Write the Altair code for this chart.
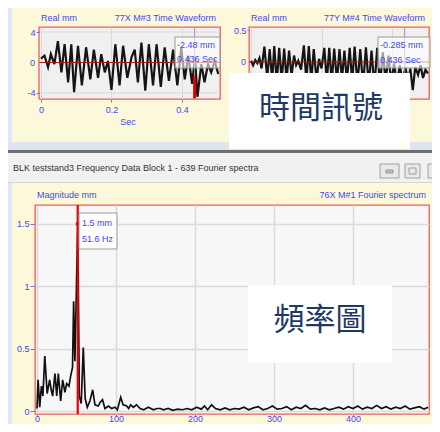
import altair as alt
import pandas as pd

# ---------------- data ----------------
# 77X M#3 time waveform (Sec, mm)
tx_time = [0.000, 0.010, 0.020, 0.028, 0.038, 0.048, 0.058, 0.067, 0.077, 0.086,
           0.094, 0.105, 0.116, 0.128, 0.140, 0.150, 0.162, 0.171, 0.181, 0.190,
           0.200, 0.211, 0.223, 0.233, 0.245, 0.257, 0.266, 0.275, 0.285, 0.296,
           0.306, 0.318, 0.328, 0.340, 0.351, 0.363, 0.375, 0.387, 0.398, 0.408,
           0.418, 0.429, 0.437, 0.444, 0.455, 0.464, 0.474, 0.483, 0.493, 0.503]
tx_val = [0.5, 0.9, -0.6, 1.1, -0.2, 2.8, -1.3, 2.4, -2.6, 2.4,
          -3.9, 2.2, -3.0, 2.0, -2.2, 1.7, -2.0, 1.1, -1.3, 0.2,
          -3.6, 2.4, -3.0, 2.2, -2.0, 0.7, 1.7, -2.6, 2.6, -3.7,
          2.4, -3.0, 2.4, -3.2, 2.0, -2.4, 1.7, -3.0, 2.0, -2.2,
          0.9, -2.8, 0.7, -4.5, -0.2, -2.6, -0.2, -1.3, 0.2, -1.5]

# 77Y M#4 time waveform (Sec, mm)
ty_time = [0.000, 0.006, 0.012, 0.018, 0.024, 0.030, 0.038, 0.046, 0.053, 0.060,
           0.066, 0.073, 0.080, 0.087, 0.094, 0.101, 0.108, 0.115, 0.122, 0.128,
           0.134, 0.142, 0.150, 0.157, 0.164, 0.171, 0.178, 0.186, 0.193, 0.200,
           0.208, 0.215, 0.222, 0.229, 0.236, 0.244, 0.251, 0.258, 0.265, 0.272,
           0.280, 0.287, 0.294, 0.302, 0.310, 0.318, 0.326, 0.334, 0.342, 0.350,
           0.358, 0.366, 0.374, 0.382, 0.390, 0.398, 0.406, 0.414, 0.422, 0.430,
           0.438, 0.446, 0.452, 0.459, 0.466, 0.474, 0.481, 0.488, 0.495, 0.502]
ty_val = [0.02, -0.05, 0.03, -0.02, 0.06, -0.10, 0.24, -0.25, 0.20, -0.30,
          0.25, -0.32, 0.22, -0.30, 0.21, -0.28, 0.18, -0.22, 0.10, -0.05,
          0.02, -0.12, 0.26, -0.30, 0.25, -0.30, 0.20, -0.28, 0.05, -0.10,
          0.22, -0.30, 0.22, -0.32, 0.21, -0.30, 0.20, -0.28, 0.18, -0.30,
          0.22, -0.32, 0.24, -0.35, 0.20, -0.38, 0.23, -0.36, 0.18, -0.40,
          0.22, -0.35, 0.15, -0.30, 0.10, -0.32, -0.02, -0.35, -0.05, -0.30,
          -0.08, -0.30, -0.10, -0.44, -0.08, -0.20, -0.05, -0.25, -0.12, -0.18]

# 76X M#1 Fourier spectrum (Hz, mm)
spec_freq = [0, 1.4, 3.5, 5.6, 7.5, 9.9, 12.9, 16, 18, 19.8,
             22.8, 25, 27, 30, 32.5, 35.4, 37.5, 40.5, 42.6, 45,
             46.4, 48, 51.6, 53.6, 56, 58.6, 61, 63.7, 67, 70.5,
             73.4, 77.6, 80, 83, 86, 90.3, 94.5, 98.7, 101.7, 106,
             109, 113.6, 116, 118.6, 122, 126, 130.6, 135, 141, 147.5,
             152, 156, 160, 166, 172, 178, 184, 190, 196, 202,
             208, 212, 216, 221, 226, 232, 238, 244, 250, 256,
             262, 268, 274, 280, 286, 292, 298, 304, 310, 316,
             322, 328, 334, 340, 346, 352, 358, 364, 370, 376,
             382, 388, 394, 400, 406, 412, 418, 424, 430, 436,
             442, 448, 454, 460, 466, 472, 478, 484, 490, 495]
spec_mag = [0.02, 0.25, 0.03, 0.20, 0.12, 0.44, 0.14, 0.25, 0.17, 0.12,
            0.30, 0.12, 0.30, 0.08, 0.25, 0.15, 0.22, 0.20, 0.28, 0.35,
            0.88, 0.40, 1.50, 0.12, 0.06, 0.51, 0.10, 0.03, 0.08, 0.17,
            0.05, 0.04, 0.07, 0.09, 0.02, 0.04, 0.02, 0.03, 0.01, 0.11,
            0.05, 0.04, 0.02, 0.05, 0.03, 0.05, 0.02, 0.01, 0.03, 0.01,
            0.02, 0.02, 0.01, 0.02, 0.005, 0.015, 0.01, 0.02, 0.01, 0.03,
            0.015, 0.04, 0.01, 0.05, 0.02, 0.01, 0.025, 0.01, 0.02, 0.015,
            0.03, 0.01, 0.025, 0.035, 0.01, 0.02, 0.04, 0.015, 0.02, 0.035,
            0.01, 0.03, 0.02, 0.045, 0.015, 0.02, 0.01, 0.025, 0.01, 0.02,
            0.03, 0.015, 0.035, 0.02, 0.04, 0.015, 0.03, 0.02, 0.045, 0.02,
            0.035, 0.015, 0.03, 0.02, 0.04, 0.015, 0.025, 0.035, 0.015, 0.03]

time_ticks = [0, 0.2, 0.4]
tl_y_ticks = [-4, 0, 4]
tr_y_ticks = [-0.5, 0, 0.5]
spec_x_ticks = [0, 100, 200, 300, 400]
spec_y_ticks = [0, 0.5, 1, 1.5]

cursor_time = 0.436
cursor_freq = 51.6
cursor_mag = 1.5

# ---------------- styling ----------------
YELLOW = "#fcf8da"
RED = "#f25a5a"
BLUE = "#4646ee"
FONT = "Liberation Sans Narrow, Liberation Sans, Arial"
CJK = "Noto Sans CJK TC"
LBL = "toString(datum.value)"

one = pd.DataFrame({"a": [0]})


def box(x1, y1, x2, y2, fill, stroke=None, sw=1.0, opacity=1.0):
    kw = dict(fill=fill, fillOpacity=opacity)
    if stroke:
        kw.update(stroke=stroke, strokeWidth=sw)
    return alt.Chart(one).mark_rect(**kw).encode(
        x=alt.value(x1), x2=alt.value(x2), y=alt.value(y1), y2=alt.value(y2))


def label(x, y, s, size=9, color=BLUE, align="left", font=FONT):
    return alt.Chart(one).mark_text(text=s, fontSize=size, color=color, align=align,
                                    baseline="middle", font=font).encode(
        x=alt.value(x), y=alt.value(y))


def zero_label(x):
    # the "0" tick label of the time-waveform y axes
    return alt.Chart(one).mark_text(text="0", fontSize=9, color=BLUE, align="right",
                                    baseline="middle", font=FONT).encode(
        x=alt.value(x), y=alt.datum(0))


def hrule(v, x1, x2, color, sw=1.0):
    return alt.Chart(one).mark_rule(color=color, strokeWidth=sw).encode(
        y=alt.datum(v), x=alt.value(x1), x2=alt.value(x2))


# ---------------- top-left: 77X M#3 ----------------
dfx = pd.DataFrame({"t": tx_time, "v": tx_val})
tl_xs = alt.Scale(domain=[-0.017, 0.508], nice=False, zero=False)
tl_ys = alt.Scale(domain=[-4.79, 4.66], nice=False, zero=False)

tl_line = alt.Chart(dfx).mark_line(color="#151515", strokeWidth=2.2).encode(
    x=alt.X("t:Q", scale=tl_xs, axis=alt.Axis(values=time_ticks, title="Sec", grid=True,
                                               domain=False, tickSize=3, labelPadding=3,
                                               labelExpr=LBL, titlePadding=3,
                                               labelOverlap=False)),
    y=alt.Y("v:Q", scale=tl_ys, axis=alt.Axis(values=tl_y_ticks, title=None, grid=False,
                                               domain=False, offset=-4, zindex=1,
                                               tickSize=3, labelPadding=1, labelExpr=LBL,
                                               labelOverlap=False)),
)
tl_mask = box(-1.5, -1.5, 4, 73.5, YELLOW)
tl_left = alt.Chart(one).mark_rule(color=RED, strokeWidth=1.3).encode(
    x=alt.value(4), y=alt.value(0), y2=alt.value(72))
tl_cur = alt.Chart(one).mark_rule(color="#9a9a9a", strokeWidth=1).encode(
    x=alt.datum(cursor_time), y=alt.value(0), y2=alt.value(72))
tl_cur_red = alt.Chart(one).mark_rule(color="#e00000", strokeWidth=3).encode(
    x=alt.datum(cursor_time), y=alt.datum(-1.8), y2=alt.datum(-4.7))

tl = alt.layer(
    hrule(4, 4, 185, "#dadada"), hrule(-4, 4, 185, "#dadada"),
    tl_line, hrule(0, 4, 185, "#9a1c1c", 1.2),
    tl_mask, tl_left, zero_label(0), tl_cur, tl_cur_red,
    box(140, 10, 185, 41, "white", "#9a9a9a", 1, 0.6),
    label(142, 18, "-2.48 mm"), label(142, 32, "0.436 Sec"),
    label(6, -9, "Real mm"), label(181, -9, "77X M#3 Time Waveform", align="right"),
).properties(width=185, height=72)

# ---------------- top-right: 77Y M#4 ----------------
dfy = pd.DataFrame({"t": ty_time, "v": ty_val})
tr_xs = alt.Scale(domain=[-0.0057, 0.505], nice=False, zero=False)
tr_ys = alt.Scale(domain=[-0.578, 0.547], nice=False, zero=False)

# x labels/title of this panel are hidden under the caption box in the reference
tr_line = alt.Chart(dfy).mark_line(color="#151515", strokeWidth=2.2).encode(
    x=alt.X("t:Q", scale=tr_xs, axis=alt.Axis(values=time_ticks, title=None, grid=True,
                                               domain=False, tickSize=3, labels=False)),
    y=alt.Y("v:Q", scale=tr_ys, axis=alt.Axis(values=tr_y_ticks, title=None, grid=False,
                                               domain=False, tickSize=2, labelPadding=1,
                                               labelExpr=LBL, labelOverlap=False)),
)
tr_cur = alt.Chart(one).mark_rule(color="#9a9a9a", strokeWidth=1).encode(
    x=alt.datum(cursor_time), y=alt.value(0), y2=alt.value(72))

tr = alt.layer(
    tr_line, hrule(0, 0, 180, "#9a1c1c", 1.2), zero_label(-3), tr_cur,
    box(129, 10, 181, 41, "white", "#9a9a9a", 1, 0.6),
    label(131, 18, "-0.285 mm"), label(131, 33, "0.436 Sec"),
    label(2, -9, "Real mm"), label(176, -9, "77Y M#4 Time Waveform", align="right"),
).properties(width=180, height=72)

# ---------------- bottom: 76X M#1 Fourier spectrum ----------------
dfs = pd.DataFrame({"f": spec_freq, "m": spec_mag})
b_xs = alt.Scale(domain=[-2.5, 496.2], nice=False, zero=False)
b_ys = alt.Scale(domain=[-0.024, 1.652], nice=False, zero=False)

b_line = alt.Chart(dfs).mark_line(color="#111111", strokeWidth=1.7).encode(
    x=alt.X("f:Q", scale=b_xs, axis=alt.Axis(values=spec_x_ticks, title=None, grid=True,
                                              gridWidth=1.5, domain=False, tickSize=2,
                                              labelPadding=-2, labelExpr=LBL,
                                              labelOverlap=False)),
    y=alt.Y("m:Q", scale=b_ys, axis=alt.Axis(values=spec_y_ticks, title=None, grid=True,
                                              gridWidth=1.5, domain=False, tickSize=5,
                                              labelPadding=1, labelExpr=LBL,
                                              labelOverlap=False)),
)
b_cur = alt.Chart(one).mark_rule(color="#ee0000", strokeWidth=2.2).encode(
    x=alt.datum(cursor_freq), y=alt.value(0), y2=alt.value(209))
b_dot = alt.Chart(one).mark_point(filled=True, color="#ee0000", size=18, opacity=1).encode(
    x=alt.datum(cursor_freq), y=alt.datum(cursor_mag))

b = alt.layer(
    b_line, b_cur, b_dot,
    box(44, 8, 82, 44, "white", "#9a9a9a", 1, 0.7),
    label(47, 18, "1.5 mm"), label(47, 34, "51.6 Hz"),
    label(2, -10, "Magnitude mm"), label(391, -10, "76X M#1 Fourier spectrum", align="right"),
    # window frame pieces
    box(-27, -197, -23, 219, "#dfe6f4"),
    box(-27, -63, 397, -55, "#dce4f2"),
    box(-27, -55, 397, -52, "#6e6e6e"),
    box(-27, -52, 397, -22, "#f1f1f1"),
    box(-27, -23, 397, -22, "#d6d6d6"),
    label(-22, -37, "BLK teststand3 Frequency Data Block 1 - 639 Fourier spectra",
          size=9, color="#333333"),
    box(345, -41, 364, -27, "#e9e9e9", "#a0a0a0", 1),
    box(370, -41, 385, -27, "#e9e9e9", "#a0a0a0", 1),
    box(393, -41, 405, -27, "#e9e9e9", "#a0a0a0", 1),
    box(351, -35, 358, -32, "#bdbdbd", "#8a8a8a", 0.8),
    box(374, -37, 381, -31, "#e9e9e9", "#8a8a8a", 0.8),
    # overlay captions
    box(194, -132, 375, -56, "white"),
    label(286, -96, "時間訊號", size=31, color="#1f3864", align="center", font=CJK),
    box(213, 80, 357, 158, "white"),
    label(285, 116, "頻率圖", size=31, color="#1f3864", align="center", font=CJK),
).properties(width=394, height=209,
             view=alt.ViewBackground(fill="#f7f7f7", stroke=RED, strokeWidth=1.3))

top = alt.hconcat(tl, tr, spacing=29, bounds="flush")
# nested concat group has no flush size, so the row gap includes the top panel height
chart = alt.vconcat(top, b, spacing=178, bounds="flush").properties(
    autosize=alt.AutoSizeParams(type="none"),
    padding={"left": 27, "top": 19, "right": 397, "bottom": 397},
    background=YELLOW,
).configure_view(
    stroke=RED, strokeWidth=1.3, fill="#f0f0f0",
).configure_axis(
    labelColor=BLUE, labelFontSize=9, labelFont=FONT, labelFlush=False,
    labelOverlap=False, labelBound=False,
    tickColor="#7777cc", titleColor=BLUE, titleFontSize=9, titleFont=FONT,
    titleFontWeight="normal", gridColor="#dadada",
)

chart.save("out.html", embed_options={"renderer": "svg", "actions": False})
